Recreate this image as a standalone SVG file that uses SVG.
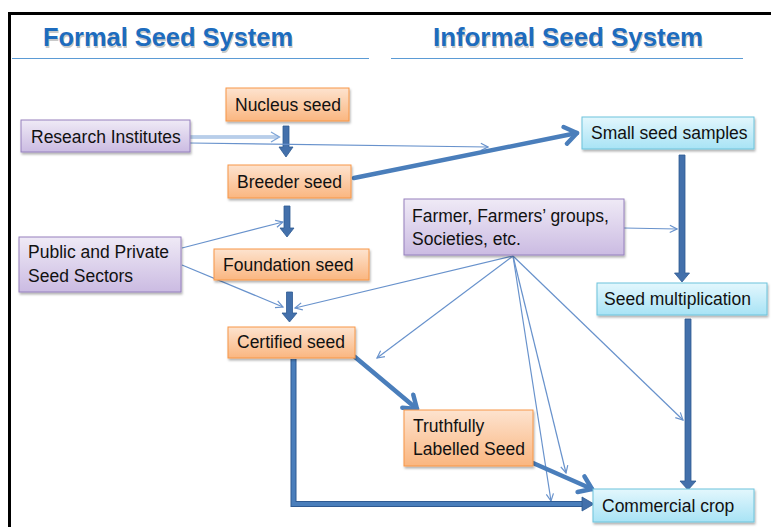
<svg xmlns="http://www.w3.org/2000/svg" width="771" height="527" viewBox="0 0 771 527">
<style>
  .t{font-family:"Liberation Sans",Arial,sans-serif;font-size:17.5px;fill:#111}
  .title{font-family:"Liberation Sans",Arial,sans-serif;font-size:25px;font-weight:bold;fill:#1D6CBE}
  .tsh{font-family:"Liberation Sans",Arial,sans-serif;font-size:25px;font-weight:bold;fill:#8a8a8a;opacity:.45}
  .or{fill:url(#gOr);stroke:#F79646;stroke-width:1}
  .pu{fill:url(#gPu);stroke:#9580BE;stroke-width:1}
  .cy{fill:url(#gCy);stroke:#6CC3DB;stroke-width:1}
  .thin{fill:none;stroke:#6892CC;stroke-width:1.2}
  .thick{fill:none;stroke:#4A7EBB;stroke-width:4.5;stroke-linecap:round}
  .blk{fill:#4370AB;stroke:#2F5A92;stroke-width:0.8}
</style>
<defs>
  <linearGradient id="gOr" x1="0" y1="0" x2="0" y2="1">
    <stop offset="0" stop-color="#FDE3CF"/><stop offset="1" stop-color="#FAB680"/>
  </linearGradient>
  <linearGradient id="gPu" x1="0" y1="0" x2="0" y2="1">
    <stop offset="0" stop-color="#EFEAF6"/><stop offset="1" stop-color="#CBBBE2"/>
  </linearGradient>
  <linearGradient id="gCy" x1="0" y1="0" x2="0" y2="1">
    <stop offset="0" stop-color="#E3F7FD"/><stop offset="1" stop-color="#A8E3F5"/>
  </linearGradient>
  <filter id="sh" x="-10%" y="-20%" width="120%" height="150%">
    <feDropShadow dx="1" dy="2" stdDeviation="1.3" flood-color="#000" flood-opacity="0.3"/>
  </filter>
  <marker id="mt" viewBox="0 0 10 10" refX="9" refY="5" markerWidth="9" markerHeight="9" markerUnits="userSpaceOnUse" orient="auto">
    <path d="M1,1 L9,5 L1,9" fill="none" stroke="#6892CC" stroke-width="1.3"/>
  </marker>
  <marker id="mT" viewBox="0 0 22 22" refX="19" refY="11" markerWidth="22" markerHeight="22" markerUnits="userSpaceOnUse" orient="auto">
    <path d="M7,2.5 L19,11 L7,19.5" fill="none" stroke="#4A7EBB" stroke-width="4.5" stroke-linecap="round" stroke-linejoin="round"/>
  </marker>
</defs>
<rect width="771" height="527" fill="#fff"/>
<path d="M9.5,527 V13.5 H771" fill="none" stroke="#000" stroke-width="3"/>

<g id="titles">
  <text class="tsh" x="44" y="47.5" textLength="250" lengthAdjust="spacingAndGlyphs">Formal Seed System</text>
  <text class="title" x="43" y="46" textLength="250" lengthAdjust="spacingAndGlyphs">Formal Seed System</text>
  <text class="tsh" x="434" y="47.5" textLength="270" lengthAdjust="spacingAndGlyphs">Informal Seed System</text>
  <text class="title" x="433" y="46" textLength="270" lengthAdjust="spacingAndGlyphs">Informal Seed System</text>
  <line x1="12" y1="58.5" x2="369" y2="58.5" stroke="#5B9BD5" stroke-width="1.2"/>
  <line x1="391" y1="58.5" x2="743" y2="58.5" stroke="#5B9BD5" stroke-width="1.2"/>
</g>

<g id="connectors">
  <path class="blk" d="M283,126 H289 V147 H293 L286,157 L279,147 H283 Z"/>
  <path class="blk" d="M284,206 H290 V228 H294 L287,237 L280,228 H284 Z"/>
  <path class="blk" d="M286.5,292 H292.5 V313 H297 L289.5,322 L282,313 H286.5 Z"/>
  <path class="blk" d="M679,155 H685 V273 H689.5 L682,282 L674.5,273 H679 Z"/>
  <path class="blk" d="M685,319 H691 V481 H696 L688,490 L680,481 H685 Z"/>
  <line x1="190" y1="137" x2="278" y2="137" stroke="#7FA6D8" stroke-width="2.8"/>
  <line x1="190" y1="137" x2="278" y2="137" stroke="#F2F6FC" stroke-width="1"/>
  <path d="M271,132 L279.5,137 L271,142" fill="none" stroke="#7FA6D8" stroke-width="1.3"/>
  <line class="thin" x1="190" y1="143" x2="488" y2="147" marker-end="url(#mt)"/>
  <line class="thick" x1="354" y1="178" x2="577" y2="133" marker-end="url(#mT)"/>
  <line class="thin" x1="182" y1="248" x2="283" y2="222" marker-end="url(#mt)"/>
  <line class="thin" x1="182" y1="265" x2="283" y2="307" marker-end="url(#mt)"/>
  <line class="thin" x1="624" y1="228" x2="677" y2="229" marker-end="url(#mt)"/>
  <line class="thin" x1="513" y1="256" x2="295" y2="308" marker-end="url(#mt)"/>
  <line class="thin" x1="513" y1="256" x2="377" y2="358" marker-end="url(#mt)"/>
  <line class="thin" x1="513" y1="256" x2="551" y2="501" marker-end="url(#mt)"/>
  <line class="thin" x1="513" y1="256" x2="566" y2="473" marker-end="url(#mt)"/>
  <line class="thin" x1="513" y1="256" x2="683" y2="420" marker-end="url(#mt)"/>
  <line class="thick" x1="355" y1="357" x2="417" y2="409" marker-end="url(#mT)"/>
  <line class="thick" x1="533" y1="463" x2="592" y2="489" marker-end="url(#mT)"/>
  <path d="M293.5,359 V504 H584" fill="none" stroke="#2F5A92" stroke-width="6"/>
  <path d="M293.5,359 V504 H584" fill="none" stroke="#4A7EBB" stroke-width="4"/>
  <path d="M582,497 L594,504 L582,511 Z" fill="#4370AB" stroke="#2F5A92" stroke-width="0.8"/>
</g>

<g id="nucleus">
  <rect class="or" filter="url(#sh)" x="226" y="88" width="123" height="33"/>
  <text class="t" x="235" y="111">Nucleus seed</text>
</g>
<g id="research">
  <rect class="pu" filter="url(#sh)" x="21" y="120" width="169" height="32"/>
  <text class="t" x="31" y="143">Research Institutes</text>
</g>
<g id="breeder">
  <rect class="or" filter="url(#sh)" x="228" y="165" width="123" height="33"/>
  <text class="t" x="237" y="188">Breeder seed</text>
</g>
<g id="smallseed">
  <rect class="cy" filter="url(#sh)" x="582" y="117" width="172" height="32"/>
  <text class="t" x="591" y="139">Small seed samples</text>
</g>
<g id="farmer">
  <rect class="pu" filter="url(#sh)" x="404" y="199" width="220" height="56"/>
  <text class="t" x="412" y="222">Farmer, Farmers’ groups,</text>
  <text class="t" x="412" y="245">Societies, etc.</text>
</g>
<g id="public">
  <rect class="pu" filter="url(#sh)" x="19" y="237" width="162" height="55"/>
  <text class="t" x="28" y="258">Public and Private</text>
  <text class="t" x="28" y="282">Seed Sectors</text>
</g>
<g id="foundation">
  <rect class="or" filter="url(#sh)" x="214" y="249" width="155" height="31"/>
  <text class="t" x="223" y="271">Foundation seed</text>
</g>
<g id="seedmult">
  <rect class="cy" filter="url(#sh)" x="597" y="283" width="170" height="32"/>
  <text class="t" x="604" y="305">Seed multiplication</text>
</g>
<g id="certified">
  <rect class="or" filter="url(#sh)" x="228" y="327" width="127" height="31"/>
  <text class="t" x="237" y="348">Certified seed</text>
</g>
<g id="truthfully">
  <rect class="or" filter="url(#sh)" x="404" y="410" width="129" height="56"/>
  <text class="t" x="413" y="432">Truthfully</text>
  <text class="t" x="413" y="455">Labelled Seed</text>
</g>
<g id="commercial">
  <rect class="cy" filter="url(#sh)" x="593" y="489" width="161" height="33"/>
  <text class="t" x="602" y="512">Commercial crop</text>
</g>
</svg>
